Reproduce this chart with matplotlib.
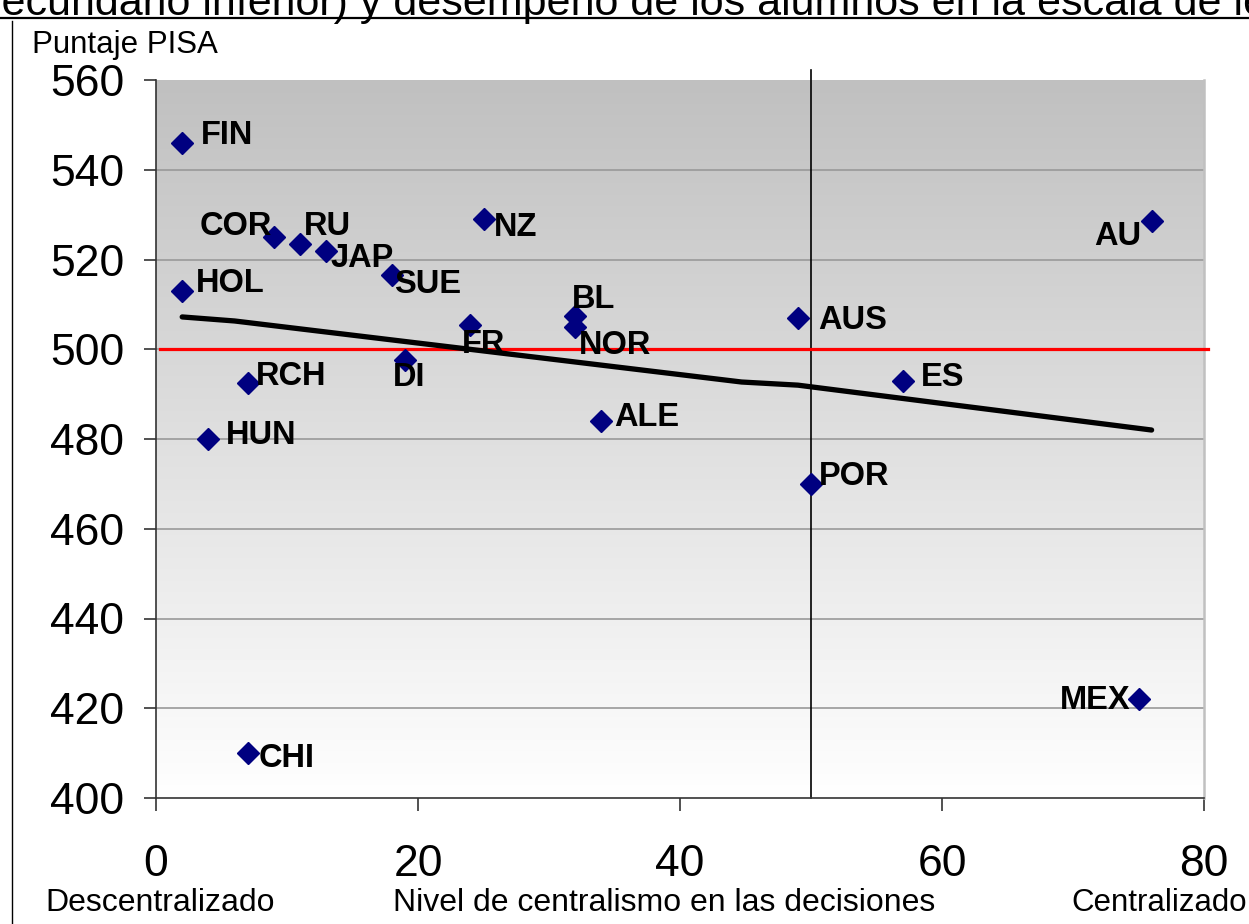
import numpy as np
import matplotlib.pyplot as plt
from matplotlib.lines import Line2D

plt.rcParams['font.family'] = ['Liberation Sans', 'DejaVu Sans']

# country codes, centralism level, PISA score
countries = ['FIN', 'HOL', 'COR', 'RU', 'JAP', 'SUE', 'NZ', 'FR', 'DI', 'BL',
             'NOR', 'ALE', 'AUS', 'ES', 'POR', 'AU', 'MEX', 'RCH', 'HUN', 'CHI']
centralism = [2, 2, 9, 11, 13, 18, 25, 24, 19, 32,
              32, 34, 49, 57, 50, 76, 75, 7, 4, 7]
pisa = [546, 513, 525, 523.5, 522, 516.5, 529, 505.5, 497.5, 507.5,
        505, 484, 507, 493, 470, 528.5, 422, 492.5, 480, 410]

# trend line
trend_x = [2, 6, 44.7, 49, 76]
trend_y = [507.2, 506.3, 492.7, 492.0, 482.0]

oecd_mean = 500
split_x = 50

x_ticks = [0, 20, 40, 60, 80]
y_ticks = [400, 420, 440, 460, 480, 500, 520, 540, 560]

# label placement: (dx px, dy px, ha)
label_pos = {
    'FIN': (19, 7, 'left'), 'HOL': (14, 7, 'left'), 'COR': (-2, 11, 'right'),
    'RU': (4, 17, 'left'), 'JAP': (4, -8, 'left'), 'SUE': (2, -9, 'left'),
    'NZ': (10, -8, 'left'), 'FR': (-9, -20, 'left'), 'DI': (-12, -17, 'left'),
    'BL': (-3, 16, 'left'), 'NOR': (4, -19, 'left'), 'ALE': (13, 4, 'left'),
    'AUS': (20, -3, 'left'), 'ES': (18, 3, 'left'), 'POR': (8, 7, 'left'),
    'AU': (-10, -15, 'right'), 'MEX': (-8, -1, 'right'), 'RCH': (8, 6, 'left'),
    'HUN': (17, 3, 'left'), 'CHI': (11, -5, 'left'),
}

fig = plt.figure(figsize=(12.49, 9.24), dpi=100)
ax = fig.add_axes([156 / 1249, 1 - 798 / 924, 1048 / 1249, 718 / 924])

# gradient background, grey at the top fading to white
grad = np.linspace(0.753, 1.0, 256).reshape(-1, 1)
ax.imshow(np.dstack([grad, grad, grad]), extent=[0, 80, 400, 560], origin='upper',
          aspect='auto', zorder=0, interpolation='bicubic')
ax.set_xlim(0, 80)
ax.set_ylim(400, 560)

for yv in y_ticks[1:-1]:
    ax.axhline(yv, color='#999999', lw=1.2, zorder=1)

ax.plot([split_x, split_x], [400, 562.3], color='black', lw=1.2, zorder=2, clip_on=False)
ax.plot([0.3, 80.3], [oecd_mean, oecd_mean], color='#ff0000', lw=2.3, zorder=3, clip_on=False)
ax.plot(trend_x, trend_y, color='black', lw=3.8, solid_capstyle='round',
        solid_joinstyle='round', zorder=4)

ax.plot(centralism, pisa, linestyle='none', marker='D', markersize=11,
        color='#000080', markeredgecolor='#000080', zorder=5, clip_on=False)

for name, xv, yv in zip(countries, centralism, pisa):
    dx, dy, ha = label_pos[name]
    ax.annotate(name, (xv, yv), xytext=(dx, dy), textcoords='offset pixels',
                ha=ha, va='center', fontsize=23.5, fontweight='bold', zorder=6)

ax.set_xticks(x_ticks)
ax.set_yticks(y_ticks)
ax.tick_params(axis='both', labelsize=32, length=9, width=1.2, color='#333333', direction='out')
ax.tick_params(axis='x', pad=24)
ax.tick_params(axis='y', pad=14)

ax.spines['top'].set_visible(False)
ax.spines['right'].set_color('#c0c0c0')
ax.spines['right'].set_linewidth(1.8)
ax.spines['left'].set_color('#333333')
ax.spines['bottom'].set_color('#333333')
ax.spines['left'].set_linewidth(1.2)
ax.spines['bottom'].set_linewidth(1.2)

# texts around the chart
fig.text(32 / 1249, 1 - 45 / 924, 'Puntaje PISA', fontsize=22.5, va='center', ha='left')
fig.text(45 / 1249, 1 - 903 / 924, 'Descentralizado', fontsize=23, va='center', ha='left')
fig.text(393 / 1249, 1 - 903 / 924, 'Nivel de centralismo en las decisiones', fontsize=23,
         va='center', ha='left')
fig.text(1247 / 1249, 1 - 903 / 924, 'Centralizado', fontsize=22.5, va='center', ha='right')

# cut-off title at the top
fig.text(-20 / 1249, 1 - 15 / 924,
         'secundario inferior) y desempeño de los alumnos en la escala de lectura',
         fontsize=31, va='baseline', ha='left')
fig.add_artist(Line2D([0, 1], [1 - 18 / 924, 1 - 18 / 924], color='black', lw=1.6))
fig.add_artist(Line2D([12 / 1249, 12 / 1249], [0, 1 - 21 / 924], color='black', lw=1.0))

fig.savefig('out.png', dpi=100)
